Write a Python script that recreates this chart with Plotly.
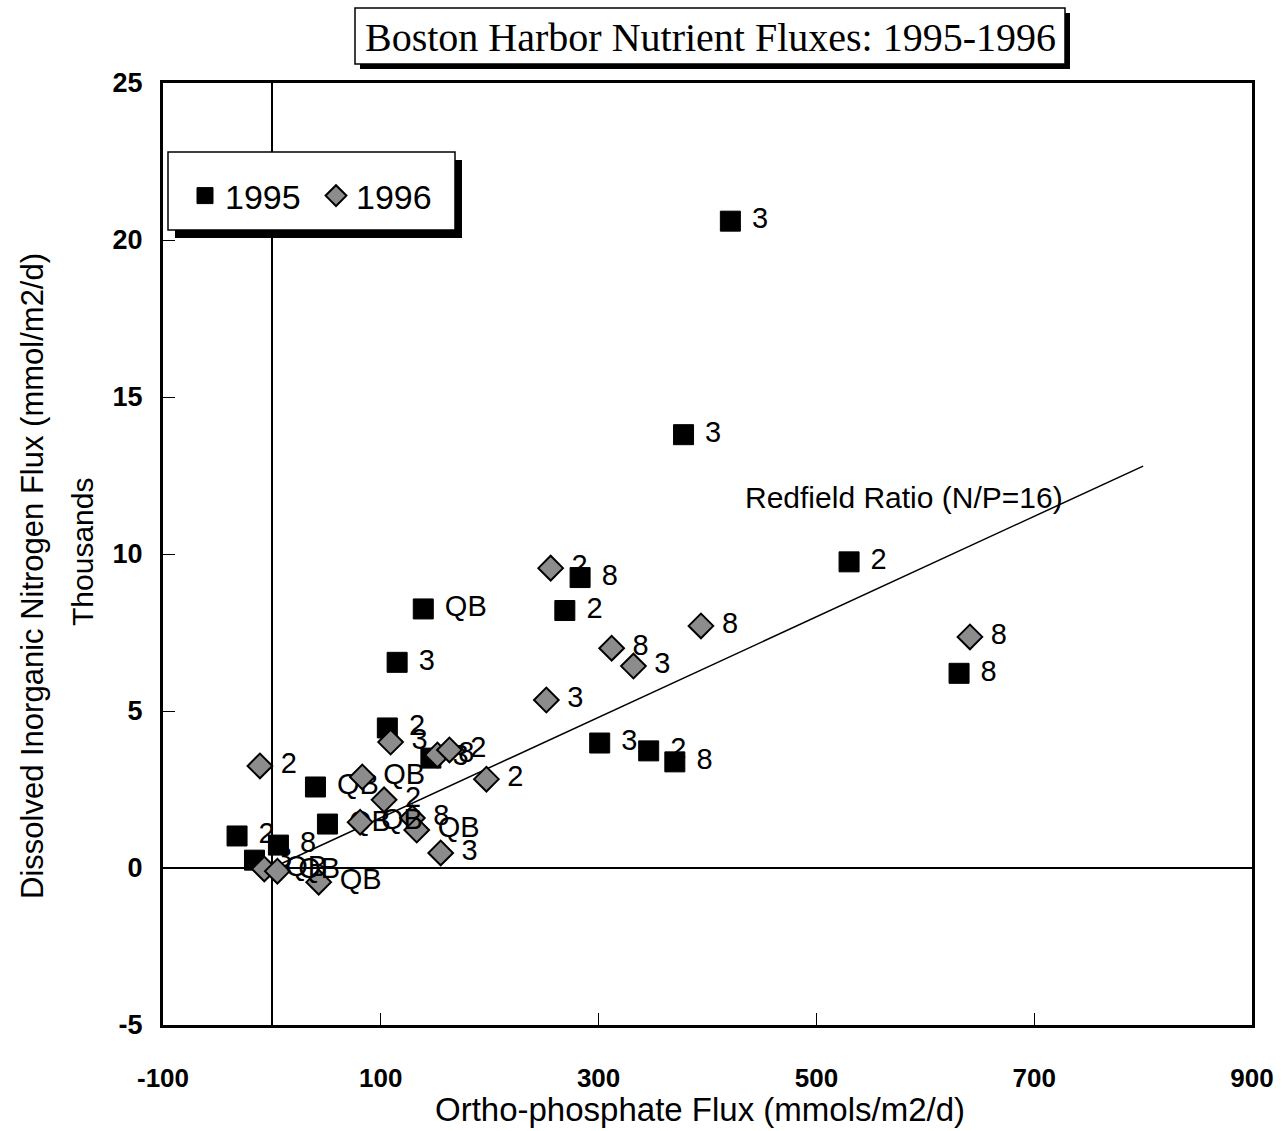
import plotly.graph_objects as go

# ---------------- data ----------------
# 1995 stations (x: ortho-phosphate flux, y: DIN flux in thousands)
x1995 = [421, 378, 530, 631, 283, 269, 139, 115, 301, 346, 370, 106, 146, 40, 51, -32, 6, -16]
y1995 = [20.6, 13.8, 9.75, 6.2, 9.25, 8.2, 8.25, 6.55, 3.98, 3.73, 3.38, 4.46, 3.5, 2.58, 1.4, 1.02, 0.73, 0.25]
lab1995 = ["3", "3", "2", "8", "8", "2", "QB", "3", "3", "2", "8", "2", "3", "QB", "QB", "2", "8", "3"]

# 1996 stations
x1996 = [641, 394, 312, 332, 252, 256, 109, 152, 163, 197, -11, 83, 103, 81, 129, 133, 155, -7, 5, 43]
y1996 = [7.36, 7.71, 7.0, 6.43, 5.35, 9.55, 4.01, 3.6, 3.76, 2.83, 3.25, 2.9, 2.17, 1.46, 1.59, 1.21, 0.48, -0.03, -0.1, -0.45]
lab1996 = ["8", "8", "8", "3", "3", "2", "3", "8", "2", "2", "2", "QB", "2", "QB", "8", "QB", "3", "QB", "QB", "QB"]

# Redfield ratio line N/P = 16
redfield_ratio = 16
redfield_x = [0, 800]
redfield_y = [redfield_ratio * v / 1000 for v in redfield_x]

x_ticks = [-100, 100, 300, 500, 700, 900]
y_ticks = [-5, 0, 5, 10, 15, 20, 25]

FONT = "Liberation Sans, Arial, sans-serif"

W, H = 1285, 1131
PL, PR, PT, PB = 163, 1252, 83, 1025   # plot area in page pixels

fig = go.Figure()

fig.add_trace(go.Scatter(
    x=redfield_x, y=redfield_y, mode="lines",
    line=dict(color="black", width=1.5), showlegend=False, hoverinfo="skip"))

fig.add_trace(go.Scatter(
    x=x1995, y=y1995, mode="markers+text", name="1995",
    text=lab1995, texttemplate=" %{text}", textposition="middle right",
    textfont=dict(family=FONT, size=29, color="black"),
    marker=dict(symbol="square", size=20, color="black",
                line=dict(color="black", width=1))))

fig.add_trace(go.Scatter(
    x=x1996, y=y1996, mode="markers+text", name="1996",
    text=lab1996, texttemplate=" %{text}", textposition="middle right",
    textfont=dict(family=FONT, size=29, color="black"),
    marker=dict(symbol="diamond", size=19, color="#8c8c8c",
                line=dict(color="black", width=2))))

def px_x(p):
    return (p - PL) / (PR - PL)

def px_y(p):
    return (PB - p) / (PB - PT)

shapes = [
    # title box shadow and box
    dict(type="rect", xref="paper", yref="paper", layer="above",
         x0=px_x(360), x1=px_x(1070), y0=px_y(69), y1=px_y(13),
         fillcolor="black", line=dict(width=0)),
    dict(type="rect", xref="paper", yref="paper", layer="above",
         x0=px_x(355), x1=px_x(1065), y0=px_y(64), y1=px_y(8),
         fillcolor="white", line=dict(color="black", width=1.5)),
    # legend box shadow and box
    dict(type="rect", xref="paper", yref="paper", layer="above",
         x0=px_x(175), x1=px_x(462), y0=px_y(238), y1=px_y(160),
         fillcolor="black", line=dict(width=0)),
    dict(type="rect", xref="paper", yref="paper", layer="above",
         x0=px_x(168), x1=px_x(455), y0=px_y(230), y1=px_y(152),
         fillcolor="white", line=dict(color="black", width=1.5)),
]

annotations = [
    dict(text="Boston Harbor Nutrient Fluxes: 1995-1996", xref="paper", yref="paper",
         x=px_x(710), y=px_y(37), xanchor="center", yanchor="middle", showarrow=False,
         font=dict(family="Liberation Serif, Times New Roman, serif", size=40, color="black")),
    dict(text="Dissolved Inorganic Nitrogen Flux (mmol/m2/d)", xref="paper", yref="paper",
         x=px_x(32), y=px_y(576), xanchor="center", yanchor="middle", showarrow=False,
         textangle=-90, font=dict(family=FONT, size=31, color="black")),
    dict(text="Thousands", xref="paper", yref="paper",
         x=px_x(82), y=px_y(552), xanchor="center", yanchor="middle", showarrow=False,
         textangle=-90, font=dict(family=FONT, size=30, color="black")),
    dict(text="Ortho-phosphate Flux (mmols/m2/d)", xref="paper", yref="paper",
         x=px_x(700), y=px_y(1109), xanchor="center", yanchor="middle", showarrow=False,
         font=dict(family=FONT, size=33, color="black")),
    dict(text="Redfield Ratio (N/P=16)", xref="x", yref="y",
         x=580, y=11.8, xanchor="center", yanchor="middle", showarrow=False,
         font=dict(family=FONT, size=30, color="black")),
]

fig.update_layout(
    width=W, height=H,
    margin=dict(l=PL, r=W - PR, t=PT, b=H - PB, pad=0),
    plot_bgcolor="white", paper_bgcolor="white",
    font=dict(family=FONT, color="black"),
    showlegend=True,
    legend=dict(orientation="h", x=px_x(185), y=px_y(196), xanchor="left", yanchor="middle",
                bgcolor="rgba(0,0,0,0)", borderwidth=0,
                font=dict(family=FONT, size=34, color="black"),
                entrywidth=86, entrywidthmode="pixels"),
    shapes=shapes, annotations=annotations,
)

fig.update_xaxes(
    range=[-100, 900], tickvals=x_ticks, ticktext=[str(v) for v in x_ticks],
    showgrid=False, zeroline=True, zerolinecolor="black", zerolinewidth=1.5,
    showline=True, linecolor="black", linewidth=3, mirror=True,
    ticks="inside", ticklen=12, tickcolor="black", tickwidth=1,
    ticklabelstandoff=28,
    tickfont=dict(family=FONT, size=26, color="black", weight="bold"))

fig.update_yaxes(
    range=[-5, 25], tickvals=y_ticks, ticktext=[str(v) for v in y_ticks],
    showgrid=False, zeroline=True, zerolinecolor="black", zerolinewidth=1.5,
    showline=True, linecolor="black", linewidth=3, mirror=True,
    ticks="inside", ticklen=12, tickcolor="black", tickwidth=1,
    ticklabelstandoff=12,
    tickfont=dict(family=FONT, size=27, color="black", weight="bold"))

fig.write_html(
    "out.html",
    config={"displayModeBar": False},
    post_script="document.body.style.margin='0';document.body.style.overflow='hidden';",
)
